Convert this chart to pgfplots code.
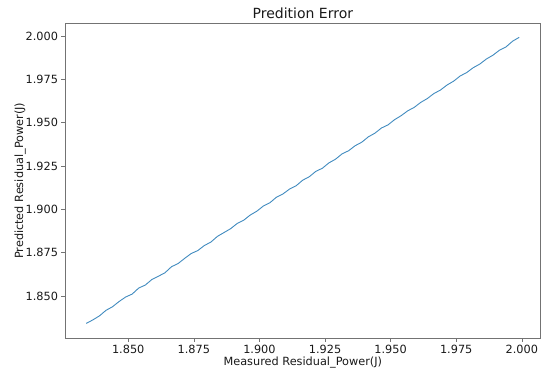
\documentclass[border=0pt]{standalone}
\usepackage{fontspec}
\setmainfont{DejaVu Sans}
\usepackage{pgfplots}
\pgfplotsset{compat=1.18}
\definecolor{mplblue}{HTML}{1F77B4}
\begin{document}
\begin{tikzpicture}
\path (-65pt,-29.7pt) rectangle (482pt,338.3pt);
\begin{axis}[
  at={(0,0)}, anchor=south west,
  scale only axis, width=475.7pt, height=315pt,
  xmin=1.8259, xmax=2.0072, ymin=1.8256, ymax=2.0073,
  xtick={1.850,1.875,1.900,1.925,1.950,1.975,2.000},
  ytick={1.850,1.875,1.900,1.925,1.950,1.975,2.000},
  /pgf/number format/assume math mode=true,
  /pgf/number format/.cd, fixed, fixed zerofill, precision=3, /pgfplots/.cd,
  tick label style={font=\fontsize{11.3}{13}\selectfont, text=black!90},
  label style={font=\fontsize{11.3}{13}\selectfont, text=black!90},
  title style={font=\fontsize{14}{16}\selectfont, text=black!90, yshift=-5pt},
  title={Predition Error},
  xlabel={Measured Residual\_Power(J)},
  ylabel={Predicted Residual\_Power(J)},
  xlabel style={yshift=4pt},
  ylabel style={yshift=-7pt},
  axis line style={black!55, line width=0.6pt},
  tick style={black!55, line width=0.6pt},
  tick align=outside, major tick length=3.5pt,
  xtick pos=bottom, ytick pos=left,
  scaled ticks=false,
]
\addplot[mplblue!85, line width=0.9pt, no markers] coordinates {
(1.8340,1.8342) (1.8365,1.8362) (1.8390,1.8385) (1.8415,1.8417) (1.8440,1.8438)
(1.8465,1.8468) (1.8490,1.8494) (1.8515,1.8511) (1.8540,1.8546) (1.8565,1.8563)
(1.8590,1.8595) (1.8615,1.8614) (1.8640,1.8634) (1.8665,1.8669) (1.8690,1.8687)
(1.8715,1.8717) (1.8740,1.8745) (1.8765,1.8762) (1.8790,1.8791) (1.8815,1.8811)
(1.8840,1.8844) (1.8865,1.8866) (1.8890,1.8888) (1.8915,1.8918) (1.8940,1.8937)
(1.8965,1.8967) (1.8990,1.8989) (1.9015,1.9019) (1.9040,1.9038) (1.9065,1.9070)
(1.9090,1.9089) (1.9115,1.9117) (1.9140,1.9136) (1.9165,1.9168) (1.9190,1.9188)
(1.9215,1.9219) (1.9240,1.9237) (1.9265,1.9268) (1.9290,1.9289) (1.9315,1.9320)
(1.9340,1.9338) (1.9365,1.9367) (1.9390,1.9387) (1.9415,1.9418) (1.9440,1.9439)
(1.9465,1.9469) (1.9490,1.9487) (1.9515,1.9517) (1.9540,1.9540) (1.9565,1.9568)
(1.9590,1.9588) (1.9615,1.9617) (1.9640,1.9639) (1.9665,1.9668) (1.9690,1.9688)
(1.9715,1.9717) (1.9740,1.9739) (1.9765,1.9769) (1.9790,1.9789) (1.9815,1.9817)
(1.9840,1.9838) (1.9865,1.9867) (1.9890,1.9889) (1.9915,1.9918) (1.9940,1.9937)
(1.9965,1.9970) (1.9990,1.9992)
};
\end{axis}
\end{tikzpicture}
\end{document}
